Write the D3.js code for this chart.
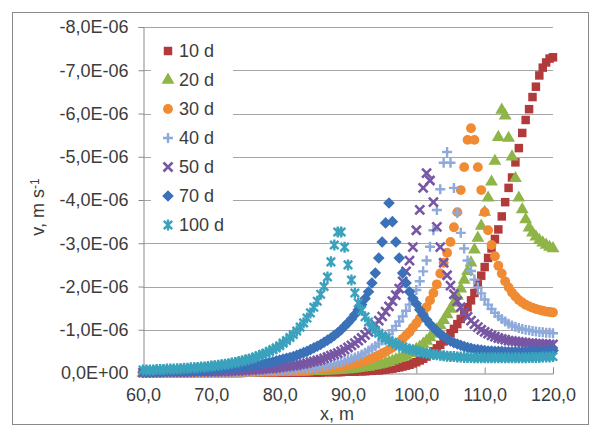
<!DOCTYPE html>
<html>
<head>
<meta charset="utf-8">
<script src="https://cdn.jsdelivr.net/npm/d3@7"></script>
<style>
  body { margin: 0; background: #fff; }
  svg text { font-family: "Liberation Sans", Arial, sans-serif; fill: #3c3c3c; }
</style>
</head>
<body>
<div id="chart"></div>
<script>
// distance along the profile, m
const xs = [60,60.5,61,61.5,62,62.5,63,63.5,64,64.5,65,65.5,66,66.5,67,67.5,68,68.5,69,69.5,
  70,70.5,71,71.5,72,72.5,73,73.5,74,74.5,75,75.5,76,76.5,77,77.5,78,78.5,79,79.5,
  80,80.5,81,81.5,82,82.5,83,83.5,84,84.5,85,85.5,86,86.5,87,87.5,88,88.5,89,89.5,
  90,90.5,91,91.5,92,92.5,93,93.5,94,94.5,95,95.5,96,96.5,97,97.5,98,98.5,99,99.5,
  100,100.5,101,101.5,102,102.5,103,103.5,104,104.5,105,105.5,106,106.5,107,107.5,108,108.5,109,109.5,
  110,110.5,111,111.5,112,112.5,113,113.5,114,114.5,115,115.5,116,116.5,117,117.5,118,118.5,119,119.5,120];

const seriesNames = ["10 d", "20 d", "30 d", "40 d", "50 d", "70 d", "100 d"];

// v, in units of 1E-06 m/s
const v10d = [0,0,0,0,0,0,0,0,0,0, 0,0,0,0,0,0,0,0,0,0, 0,0,0,0,0,0,0,0,0,0,
  -0.01,-0.01,-0.01,-0.01,-0.01,-0.01,-0.01,-0.01,-0.01,-0.01,
  -0.01,-0.01,-0.01,-0.01,-0.01,-0.01,-0.01,-0.01,-0.01,-0.01,
  -0.01,-0.01,-0.01,-0.02,-0.02,-0.02,-0.02,-0.02,-0.02,-0.03,
  -0.03,-0.03,-0.03,-0.04,-0.04,-0.04,-0.05,-0.05,-0.06,-0.06,
  -0.07,-0.08,-0.09,-0.10,-0.12,-0.13,-0.15,-0.17,-0.19,-0.22,
  -0.25,-0.29,-0.33,-0.38,-0.44,-0.50,-0.57,-0.65,-0.73,-0.82,
  -0.92,-1.02,-1.13,-1.25,-1.38,-1.52,-1.68,-1.85,-2.05,-2.25,
  -2.45,-2.66,-2.88,-3.10,-3.32,-3.62,-3.95,-4.28,-4.52,-4.87,
  -5.20,-5.55,-5.85,-6.10,-6.38,-6.62,-6.88,-7.06,-7.18,-7.27,-7.30];

const v20d = [0,0,0,0,0,-0.01,-0.01,-0.01,-0.01,-0.01,
  -0.01,-0.01,-0.01,-0.01,-0.01,-0.01,-0.01,-0.01,-0.01,-0.01,
  -0.01,-0.01,-0.01,-0.01,-0.01,-0.01,-0.01,-0.01,-0.01,-0.01,
  -0.01,-0.01,-0.01,-0.01,-0.02,-0.02,-0.02,-0.02,-0.02,-0.02,
  -0.02,-0.02,-0.02,-0.02,-0.02,-0.03,-0.03,-0.03,-0.03,-0.04,
  -0.04,-0.04,-0.05,-0.05,-0.05,-0.06,-0.06,-0.07,-0.07,-0.08,
  -0.08,-0.09,-0.10,-0.11,-0.12,-0.13,-0.14,-0.16,-0.17,-0.19,
  -0.21,-0.23,-0.25,-0.28,-0.31,-0.34,-0.37,-0.41,-0.45,-0.50,
  -0.55,-0.60,-0.67,-0.74,-0.82,-0.90,-1.00,-1.10,-1.22,-1.35,
  -1.48,-1.62,-1.78,-1.95,-2.15,-2.35,-2.55,-2.85,-3.12,-3.40,
  -3.72,-4.05,-4.42,-4.90,-5.45,-6.08,-5.95,-5.43,-5.00,-4.50,
  -4.05,-3.78,-3.55,-3.36,-3.24,-3.15,-3.07,-3.01,-2.96,-2.91,-2.88];

const v30d = [-0.01,-0.01,-0.01,-0.01,-0.01,-0.01,-0.01,-0.01,-0.01,-0.01,
  -0.01,-0.01,-0.01,-0.01,-0.01,-0.01,-0.01,-0.01,-0.01,-0.01,
  -0.02,-0.02,-0.02,-0.02,-0.02,-0.02,-0.02,-0.02,-0.02,-0.02,
  -0.02,-0.02,-0.02,-0.03,-0.03,-0.03,-0.03,-0.03,-0.03,-0.03,
  -0.04,-0.04,-0.04,-0.05,-0.05,-0.05,-0.06,-0.06,-0.07,-0.07,
  -0.08,-0.09,-0.09,-0.10,-0.11,-0.12,-0.13,-0.14,-0.15,-0.17,
  -0.18,-0.20,-0.22,-0.24,-0.26,-0.28,-0.31,-0.34,-0.37,-0.41,
  -0.45,-0.49,-0.54,-0.59,-0.65,-0.72,-0.79,-0.87,-0.95,-1.05,
  -1.15,-1.26,-1.38,-1.52,-1.68,-1.85,-2.05,-2.30,-2.55,-2.78,
  -3.03,-3.37,-3.72,-4.23,-4.76,-5.39,-5.66,-5.39,-4.76,-4.23,
  -3.72,-3.30,-2.96,-2.70,-2.48,-2.30,-2.12,-1.98,-1.86,-1.77,
  -1.69,-1.63,-1.58,-1.54,-1.51,-1.48,-1.46,-1.44,-1.42,-1.41,-1.40];

const v40d = [-0.01,-0.01,-0.01,-0.01,-0.01,-0.01,-0.01,-0.01,-0.01,-0.01,
  -0.01,-0.01,-0.01,-0.01,-0.02,-0.02,-0.02,-0.02,-0.02,-0.02,
  -0.02,-0.02,-0.02,-0.02,-0.02,-0.03,-0.03,-0.03,-0.03,-0.03,
  -0.03,-0.03,-0.03,-0.04,-0.04,-0.04,-0.04,-0.05,-0.05,-0.05,
  -0.06,-0.06,-0.07,-0.07,-0.08,-0.08,-0.09,-0.10,-0.10,-0.11,
  -0.12,-0.13,-0.15,-0.16,-0.17,-0.19,-0.21,-0.23,-0.25,-0.27,
  -0.30,-0.33,-0.36,-0.39,-0.43,-0.47,-0.52,-0.57,-0.62,-0.68,
  -0.75,-0.82,-0.90,-0.99,-1.09,-1.19,-1.31,-1.44,-1.58,-1.74,
  -1.92,-2.12,-2.35,-2.60,-2.92,-3.30,-3.77,-4.25,-4.86,-5.11,
  -4.86,-4.28,-3.70,-3.24,-2.88,-2.60,-2.36,-2.16,-1.98,-1.84,
  -1.70,-1.58,-1.48,-1.39,-1.31,-1.25,-1.19,-1.14,-1.10,-1.07,
  -1.04,-1.02,-1.00,-0.99,-0.97,-0.96,-0.95,-0.94,-0.93,-0.93,-0.92];

const v50d = [-0.01,-0.01,-0.01,-0.01,-0.01,-0.02,-0.02,-0.02,-0.02,-0.02,
  -0.02,-0.02,-0.02,-0.02,-0.02,-0.03,-0.03,-0.03,-0.03,-0.03,
  -0.03,-0.03,-0.04,-0.04,-0.04,-0.04,-0.05,-0.05,-0.05,-0.06,
  -0.06,-0.07,-0.07,-0.08,-0.08,-0.09,-0.10,-0.10,-0.11,-0.12,
  -0.13,-0.14,-0.15,-0.16,-0.17,-0.18,-0.20,-0.21,-0.23,-0.25,
  -0.27,-0.29,-0.31,-0.34,-0.37,-0.40,-0.43,-0.46,-0.50,-0.54,
  -0.59,-0.64,-0.69,-0.75,-0.81,-0.88,-0.95,-1.03,-1.12,-1.21,
  -1.31,-1.42,-1.54,-1.66,-1.80,-1.95,-2.12,-2.35,-2.60,-2.91,
  -3.30,-3.77,-4.28,-4.62,-4.45,-3.95,-3.38,-2.91,-2.55,-2.26,
  -2.02,-1.82,-1.66,-1.52,-1.40,-1.30,-1.21,-1.13,-1.06,-1.00,
  -0.95,-0.91,-0.87,-0.84,-0.81,-0.79,-0.77,-0.75,-0.74,-0.73,
  -0.72,-0.71,-0.70,-0.69,-0.69,-0.68,-0.68,-0.67,-0.67,-0.66,-0.66];

const v70d = [-0.02,-0.02,-0.03,-0.03,-0.03,-0.03,-0.03,-0.04,-0.04,-0.04,
  -0.04,-0.05,-0.05,-0.05,-0.06,-0.06,-0.06,-0.07,-0.07,-0.08,
  -0.08,-0.09,-0.09,-0.10,-0.11,-0.11,-0.12,-0.13,-0.14,-0.15,
  -0.16,-0.17,-0.18,-0.19,-0.20,-0.21,-0.23,-0.24,-0.26,-0.28,
  -0.30,-0.32,-0.34,-0.36,-0.38,-0.41,-0.44,-0.47,-0.50,-0.54,
  -0.58,-0.62,-0.66,-0.71,-0.76,-0.81,-0.87,-0.93,-1.00,-1.08,
  -1.16,-1.25,-1.35,-1.46,-1.58,-1.72,-1.88,-2.08,-2.31,-2.66,
  -3.03,-3.47,-3.93,-3.50,-3.03,-2.66,-2.31,-2.08,-1.88,-1.72,
  -1.60,-1.46,-1.34,-1.23,-1.13,-1.05,-0.97,-0.90,-0.84,-0.79,
  -0.74,-0.70,-0.67,-0.64,-0.61,-0.59,-0.57,-0.55,-0.54,-0.53,
  -0.52,-0.51,-0.51,-0.50,-0.50,-0.50,-0.49,-0.49,-0.49,-0.49,
  -0.49,-0.49,-0.49,-0.50,-0.50,-0.50,-0.50,-0.51,-0.51,-0.52,-0.52];

const v100d = [-0.07,-0.07,-0.07,-0.07,-0.08,-0.08,-0.08,-0.09,-0.09,-0.09,
  -0.10,-0.10,-0.11,-0.11,-0.12,-0.12,-0.13,-0.14,-0.14,-0.15,
  -0.16,-0.17,-0.18,-0.19,-0.20,-0.21,-0.23,-0.24,-0.26,-0.28,
  -0.30,-0.32,-0.34,-0.37,-0.40,-0.43,-0.46,-0.50,-0.54,-0.58,
  -0.63,-0.69,-0.75,-0.82,-0.89,-0.97,-1.06,-1.16,-1.27,-1.39,
  -1.52,-1.66,-1.82,-2.00,-2.22,-2.57,-2.96,-3.26,-3.26,-2.91,
  -2.50,-2.15,-1.85,-1.62,-1.45,-1.30,-1.18,-1.08,-0.99,-0.92,
  -0.86,-0.80,-0.75,-0.71,-0.67,-0.63,-0.60,-0.57,-0.55,-0.53,
  -0.51,-0.49,-0.47,-0.46,-0.44,-0.43,-0.42,-0.41,-0.40,-0.39,
  -0.38,-0.38,-0.37,-0.37,-0.36,-0.36,-0.36,-0.35,-0.35,-0.35,
  -0.35,-0.35,-0.35,-0.35,-0.35,-0.35,-0.35,-0.35,-0.35,-0.35,
  -0.35,-0.35,-0.35,-0.36,-0.36,-0.36,-0.36,-0.37,-0.37,-0.37,-0.38];

const yTicks = [0, -1, -2, -3, -4, -5, -6, -7, -8];
const xTicks = [60, 70, 80, 90, 100, 110, 120];

const allSeries = [v10d, v20d, v30d, v40d, v50d, v70d, v100d];
const colors = ["#B23A3B", "#8FB548", "#F08A33", "#8EA9DB", "#7756A4", "#3B71B8", "#3BA2BD"];

// marker shapes, same order as the series
const markers = [
    { d: d3.symbol(d3.symbolSquare, 72)(), fill: true },
    { d: d3.symbol(d3.symbolTriangle, 72)(), fill: true },
    { d: d3.symbol(d3.symbolCircle, 76)(), fill: true },
    { d: "M-5,0H5M0,-5V5", fill: false, w: 2.4 },
    { d: "M-4.5,-4.5L4.5,4.5M-4.5,4.5L4.5,-4.5", fill: false, w: 2.6 },
    { d: "M0,-5.8L5.8,0L0,5.8L-5.8,0Z", fill: true },
    { d: "M-4.2,-4.2L4.2,4.2M-4.2,4.2L4.2,-4.2M0,-5.5V5.5", fill: false, w: 2.4 }
];

const W = 590, H = 428;
const plotLeft = 143, plotRight = 553, plotTop = 27, plotBottom = 373;

const svg = d3.select("#chart").append("svg")
    .attr("width", W).attr("height", H);

svg.append("rect")
    .attr("x", 12.5).attr("y", 12.5)
    .attr("width", 576).attr("height", 412)
    .attr("fill", "#fff").attr("stroke", "#8a8a8a");

const x = d3.scaleLinear().domain([60, 120]).range([plotLeft, plotRight]);
const y = d3.scaleLinear().domain([0, -8]).range([plotBottom, plotTop]);

// horizontal gridlines
svg.append("g").selectAll("line")
    .data(yTicks.filter(d => d !== 0))
    .join("line")
    .attr("x1", plotLeft).attr("x2", plotRight)
    .attr("y1", d => Math.round(y(d)) + 0.5)
    .attr("y2", d => Math.round(y(d)) + 0.5)
    .attr("stroke", "#a6a6a6").attr("stroke-width", 1.2);

const fmt = d => d === 0 ? "0,0E+00" : d.toFixed(1).replace(".", ",") + "E-06";

const yAxis = svg.append("g")
    .attr("transform", `translate(${plotLeft + 0.5},0)`)
    .call(d3.axisLeft(y).tickValues(yTicks).tickSize(5).tickPadding(10).tickFormat(fmt));

const xAxis = svg.append("g")
    .attr("transform", `translate(0,${plotBottom + 0.5})`)
    .call(d3.axisBottom(x).tickValues(xTicks).tickSize(-6).tickPadding(15).tickFormat(d => d.toFixed(1).replace(".", ",")));

[yAxis, xAxis].forEach(g => {
    g.select(".domain").attr("stroke", "#8a8a8a");
    g.selectAll(".tick line").attr("stroke", "#8a8a8a");
    g.selectAll("text").style("font-size", "18px").attr("fill", "#3c3c3c");
});

// data points, first series at the bottom
allSeries.forEach((vals, i) => {
    const m = markers[i];
    svg.append("g").selectAll("path")
        .data(vals.map((v, j) => ({ x: xs[j], v: v })))
        .join("path")
        .attr("transform", d => `translate(${x(d.x)},${y(d.v)})`)
        .attr("d", m.d)
        .attr("fill", m.fill ? colors[i] : "none")
        .attr("stroke", m.fill ? "none" : colors[i])
        .attr("stroke-width", m.w || 0);
});

// legend
const legend = svg.append("g");
legend.append("rect")
    .attr("x", 151).attr("y", 36).attr("width", 82).attr("height", 202)
    .attr("fill", "#fff");

seriesNames.forEach((name, i) => {
    const row = legend.append("g").attr("transform", `translate(0,${51 + i * 29})`);
    const m = markers[i];
    row.append("path")
        .attr("transform", "translate(168,0)")
        .attr("d", m.d)
        .attr("fill", m.fill ? colors[i] : "none")
        .attr("stroke", m.fill ? "none" : colors[i])
        .attr("stroke-width", m.w || 0);
    row.append("text")
        .attr("x", 179).attr("y", 0).attr("dy", "0.35em")
        .style("font-size", "18px")
        .text(name);
});

// axis titles
const yt = svg.append("text")
    .attr("transform", "translate(44,207) rotate(-90)")
    .attr("text-anchor", "middle")
    .style("font-size", "18px");
yt.append("tspan").text("v, m s");
yt.append("tspan").attr("dy", "-0.45em").style("font-size", "12px").text("-1");

svg.append("text")
    .attr("x", 337).attr("y", 420)
    .attr("text-anchor", "middle")
    .style("font-size", "18px")
    .text("x, m");
</script>
</body>
</html>
